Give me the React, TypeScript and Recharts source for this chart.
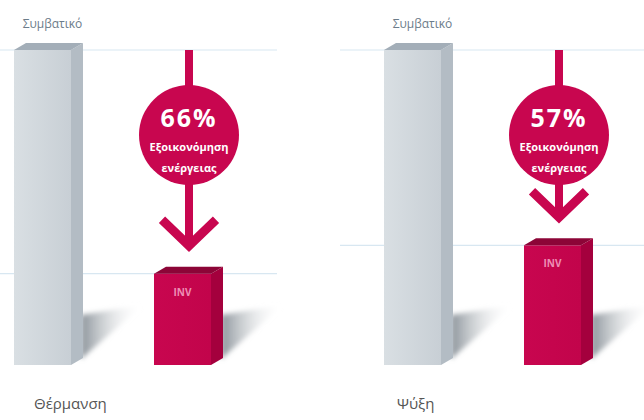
import React from 'react';
import {
  BarChart,
  Bar,
  XAxis,
  YAxis,
  CartesianGrid,
  ReferenceDot,
  LabelList,
} from 'recharts';

// κατηγορίες και τιμές (συμβατικό = 100)
const kinds = ['Συμβατικό', 'INV'];
const panelTitles = ['Θέρμανση', 'Ψύξη'];
const heatingValues = [100, 29];
const coolingValues = [100, 38];
const savingsLabels = ['66%', '57%'];
const savingsWords = ['Εξοικονόμηση', 'ενέργειας'];

const RED = '#c8064f';
const TOP = 50;
const FONT = '"Open Sans", "DejaVu Sans", sans-serif';

const palettes = [
  { front: ['#d9dfe3', '#c8cfd5'], side: '#b3bcc4', top: '#a3aeb8' },
  { front: [RED, '#c2044b'], side: '#a4003d', top: '#8c0537' },
];

interface PanelProps {
  id: string;
  title: string;
  values: number[];
  saving: string;
  left: number;
  marginLeft: number;
  marginRight: number;
  titleDx: number;
  lineFrom: number;
  lineTo: number;
}

const BarBox = (props: any) => {
  const { x, y, width, height, index, chartId } = props;
  const p = palettes[index];
  const dx = 12;
  const dy = 7;
  const bottom = y + height;
  const sx = x + width + dx;
  const gid = `${chartId}-${index}`;
  return (
    <g>
      <defs>
        <linearGradient id={`sh-${gid}`} x1="0" y1="0" x2="1" y2="0">
          <stop offset="0%" stopColor="#7d868e" stopOpacity={0.9} />
          <stop offset="100%" stopColor="#ffffff" stopOpacity={0} />
        </linearGradient>
        <linearGradient id={`fr-${gid}`} x1="0" y1="0" x2="1" y2="0">
          <stop offset="0%" stopColor={p.front[0]} />
          <stop offset="100%" stopColor={p.front[1]} />
        </linearGradient>
        <filter id={`bl-${gid}`} x="-20%" y="-20%" width="140%" height="140%">
          <feGaussianBlur stdDeviation={2.5} />
        </filter>
      </defs>
      <polygon
        points={`${sx - 2},${bottom - 50} ${sx - 2},${bottom - 6} ${sx + 60},${bottom - 60}`}
        fill={`url(#sh-${gid})`}
        filter={`url(#bl-${gid})`}
      />
      <rect x={x} y={y} width={width} height={height} fill={`url(#fr-${gid})`} />
      <polygon
        points={`${x + width},${y} ${sx},${y - dy} ${sx},${bottom - dy} ${x + width},${bottom}`}
        fill={p.side}
      />
      <polygon
        points={`${x},${y} ${x + dx},${y - dy} ${sx},${y - dy} ${x + width},${y}`}
        fill={p.top}
      />
    </g>
  );
};

const SavingArrow = (props: any) => {
  const { cx, cy, saving } = props;
  const ax = cx + 7;
  const tip = cy - 25;
  const cyc = TOP + 85;
  return (
    <g>
      <line x1={ax} y1={TOP} x2={ax} y2={tip - 3} stroke={RED} strokeWidth={8} />
      <polyline
        points={`${ax - 27},${tip - 29} ${ax},${tip - 3} ${ax + 27},${tip - 29}`}
        fill="none"
        stroke={RED}
        strokeWidth={9}
      />
      <circle cx={ax} cy={cyc} r={50} fill={RED} />
      <text
        x={ax}
        y={cyc - 8}
        textAnchor="middle"
        fill="#fff"
        fontFamily={FONT}
        fontWeight={700}
        fontSize={25}
        letterSpacing={2}
      >
        {saving}
      </text>
      {savingsWords.map((w, i) => (
        <text
          key={w}
          x={ax}
          y={cyc + 16 + i * 21}
          textAnchor="middle"
          fill="#fff"
          fontFamily={FONT}
          fontWeight={700}
          fontSize={11}
        >
          {w}
        </text>
      ))}
    </g>
  );
};

function Panel({
  id,
  title,
  values,
  saving,
  left,
  marginLeft,
  marginRight,
  titleDx,
  lineFrom,
  lineTo,
}: PanelProps) {
  const data = kinds.map((k, i) => ({ kind: k, value: values[i] }));
  const plotBottom = 420 - 25 - 30;
  const gridLine = (p: any) =>
    Math.abs(p.y1 - plotBottom) < 1 ? (
      <g key={p.key ?? p.y1} />
    ) : (
      <line
        key={p.key ?? p.y1}
        x1={lineFrom}
        y1={p.y1}
        x2={lineTo}
        y2={p.y2}
        stroke="#d8e7f1"
        strokeWidth={1.2}
      />
    );
  return (
    <div style={{ position: 'absolute', left, top: 0 }}>
      <BarChart
        width={322}
        height={420}
        data={data}
        margin={{ top: TOP, bottom: 25, left: marginLeft, right: marginRight }}
      >
        <CartesianGrid vertical={false} horizontal={gridLine} />
        <YAxis hide domain={[0, 100]} ticks={[values[1], values[0]]} />
        <XAxis
          dataKey="kind"
          height={30}
          axisLine={false}
          tickLine={false}
          interval={0}
          tick={(t: any) =>
            t.index === 0 ? (
              <text
                x={t.x + titleDx}
                y={t.y}
                dy={36}
                fill="#555"
                fontFamily={FONT}
                fontSize={15}
              >
                {title}
              </text>
            ) : (
              <g />
            )
          }
        />
        <Bar
          dataKey="value"
          barSize={57}
          isAnimationActive={false}
          shape={(p: any) => <BarBox {...p} chartId={id} />}
        >
          <LabelList
            dataKey="kind"
            content={(p: any) =>
              p.index === 0 ? (
                <text
                  x={p.x + p.width / 2 + 10}
                  y={p.y - 22}
                  textAnchor="middle"
                  fill="#6c7c8a"
                  fontFamily={FONT}
                  fontSize={12}
                >
                  {p.value}
                </text>
              ) : (
                <text
                  x={p.x + p.width / 2}
                  y={p.y + 22}
                  textAnchor="middle"
                  fill="#ee8fb5"
                  fontFamily={FONT}
                  fontWeight={700}
                  fontSize={10}
                >
                  {p.value}
                </text>
              )
            }
          />
        </Bar>
        <ReferenceDot
          x={kinds[1]}
          y={values[1]}
          r={1}
          shape={(p: any) => <SavingArrow {...p} saving={saving} />}
        />
      </BarChart>
    </div>
  );
}

export default function App() {
  return (
    <div style={{ position: 'relative', width: 644, height: 420, background: '#fff', overflow: 'hidden' }}>
      <style>{'body{margin:0}'}</style>
      <Panel
        id="heat"
        title={panelTitles[0]}
        values={heatingValues}
        saving={savingsLabels[0]}
        left={0}
        marginLeft={-28}
        marginRight={70}
        titleDx={-8}
        lineFrom={0}
        lineTo={277}
      />
      <Panel
        id="cool"
        title={panelTitles[1]}
        values={coolingValues}
        saving={savingsLabels[1]}
        left={322}
        marginLeft={20}
        marginRight={22}
        titleDx={-15}
        lineFrom={18}
        lineTo={322}
      />
    </div>
  );
}
